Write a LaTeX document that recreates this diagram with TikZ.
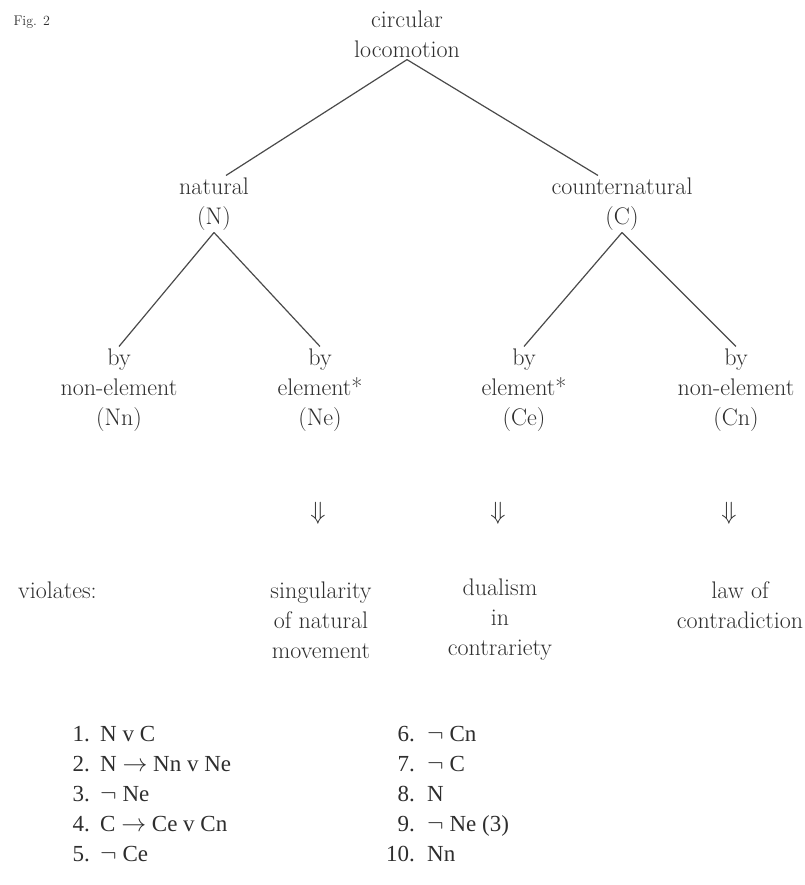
\documentclass[tikz,border=0pt]{standalone}
\usepackage{amsmath,amssymb}
\usepackage{fontspec}
\usepackage{tikz}
\usetikzlibrary{calc,positioning}
\usepackage{xcolor}
\newfontfamily\listfont{Liberation Serif}
\definecolor{ink}{HTML}{2E2E2E}
\definecolor{wire}{HTML}{4A4A4A}

\begin{document}
\begin{tikzpicture}[x=1pt,y=-1pt,
    lbl/.style={align=center,text=ink,font=\fontsize{24}{30}\selectfont,inner sep=2pt},
    lst/.style={text=ink,font=\listfont\fontsize{23}{30}\selectfont,inner sep=0pt},
    edge/.style={draw=wire,line width=1.2pt}]
  \useasboundingbox (0,0) rectangle (804,885);
  % titulo
  \node[text=ink,font=\fontsize{14}{16}\selectfont,anchor=west] (fig) at (10,22) {Fig. 2};
  % arbol
  \node[lbl] (top) at (407,34) {circular\\locomotion};
  \node[lbl] (nat) at (214,204) {natural\\(N)};
  \node[lbl] (cnat) at (622,204) {counternatural\\(C)};
  \node[lbl] (nn) at (119,390) {by\\non-element\\(Nn)};
  \node[lbl] (ne) at (320,390) {by\\element*\\(Ne)};
  \node[lbl] (ce) at (524,390) {by\\element*\\(Ce)};
  \node[lbl] (cn) at (736,390) {by\\non-element\\(Cn)};
  \draw[edge] (top.south) -- ([xshift=12pt]nat.north);
  \draw[edge] (top.south) -- ([xshift=-24pt]cnat.north);
  \draw[edge] (nat.south) -- (nn.north);
  \draw[edge] (nat.south) -- (ne.north);
  \draw[edge] (cnat.south) -- (ce.north);
  \draw[edge] (cnat.south) -- (cn.north);
  % implicaciones
  \node[lbl] (dn1) at (318,513) {$\Downarrow$};
  \node[lbl] (dn2) at (498,513) {$\Downarrow$};
  \node[lbl] (dn3) at (729,513) {$\Downarrow$};
  \node[lbl,anchor=west] (viol) at (16,590) {violates:};
  \node[lbl] (sing) at (321,620) {singularity\\of natural\\movement};
  \node[lbl] (dual) at (500,620) {dualism\\in\\contrariety};
  \node[lbl] (law) at (740,605) {law of\\contradiction};
  % derivacion
  \foreach \i/\txt [count=\k from 0] in {1/N v C,2/N $\rightarrow$ Nn v Ne,3/$\neg$ Ne,4/C $\rightarrow$ Ce v Cn,5/$\neg$ Ce}{
    \node[lst,anchor=base east] (num\i) at (90,{741+30*\k}) {\i.};
    \node[lst,anchor=base west] (st\i) at (100,{741+30*\k}) {\txt};
  }
  \foreach \i/\txt [count=\k from 0] in {6/$\neg$ Cn,7/$\neg$ C,8/N,9/$\neg$ Ne (3),10/Nn}{
    \node[lst,anchor=base east] (num\i) at (415,{741+30*\k}) {\i.};
    \node[lst,anchor=base west] (st\i) at (427,{741+30*\k}) {\txt};
  }
\end{tikzpicture}
\end{document}
